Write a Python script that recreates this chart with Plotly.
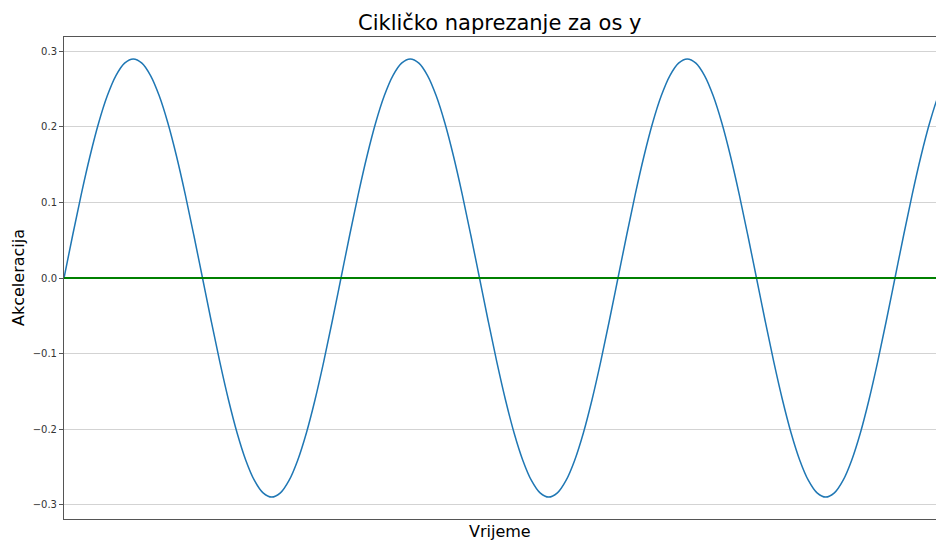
import plotly.graph_objects as go

# Sampled acceleration along the y axis, one sample every 1/32 of a load cycle
akceleracija = [
    0.0, 0.0566, 0.111, 0.1611, 0.2051, 0.2411, 0.2679, 0.2844,
    0.29, 0.2844, 0.2679, 0.2411, 0.2051, 0.1611, 0.111, 0.0566,
    0.0, -0.0566, -0.111, -0.1611, -0.2051, -0.2411, -0.2679, -0.2844,
    -0.29, -0.2844, -0.2679, -0.2411, -0.2051, -0.1611, -0.111, -0.0566,
    0.0, 0.0566, 0.111, 0.1611, 0.2051, 0.2411, 0.2679, 0.2844,
    0.29, 0.2844, 0.2679, 0.2411, 0.2051, 0.1611, 0.111, 0.0566,
    0.0, -0.0566, -0.111, -0.1611, -0.2051, -0.2411, -0.2679, -0.2844,
    -0.29, -0.2844, -0.2679, -0.2411, -0.2051, -0.1611, -0.111, -0.0566,
    0.0, 0.0566, 0.111, 0.1611, 0.2051, 0.2411, 0.2679, 0.2844,
    0.29, 0.2844, 0.2679, 0.2411, 0.2051, 0.1611, 0.111, 0.0566,
    0.0, -0.0566, -0.111, -0.1611, -0.2051, -0.2411, -0.2679, -0.2844,
    -0.29, -0.2844, -0.2679, -0.2411, -0.2051, -0.1611, -0.111, -0.0566,
    0.0, 0.0566, 0.111, 0.1611, 0.2051, 0.2411, 0.2679,
]
vrijeme = list(range(len(akceleracija)))
nula = [0.0, 0.0]
y_ticks = [-0.3, -0.2, -0.1, 0.0, 0.1, 0.2, 0.3]

FONT = "DejaVu Sans"

fig = go.Figure()
fig.add_trace(go.Scatter(
    x=vrijeme, y=akceleracija, mode="lines",
    line=dict(color="#1f77b4", width=1.5, shape="spline", smoothing=1.0),
    showlegend=False, hoverinfo="skip",
))
fig.add_trace(go.Scatter(
    x=[vrijeme[0], vrijeme[-1]], y=nula, mode="lines",
    line=dict(color="green", width=2),
    showlegend=False, hoverinfo="skip",
))

fig.update_layout(
    width=936, height=540,
    margin=dict(l=64, r=0, t=37, b=21),
    paper_bgcolor="white", plot_bgcolor="white",
    font=dict(family=FONT, color="#333"),
    xaxis=dict(
        range=[0, 100.74], showgrid=False, zeroline=False,
        showticklabels=False, ticks="",
        showline=True, linecolor="#555", linewidth=1, mirror=True,
    ),
    yaxis=dict(
        range=[-0.319, 0.319], tickvals=y_ticks, tickformat=".1f",
        showgrid=True, gridcolor="#d3d3d3", gridwidth=1, zeroline=False,
        ticks="outside", ticklen=4, tickcolor="#555", tickwidth=1,
        tickfont=dict(family=FONT, size=10, color="#333"),
        showline=True, linecolor="#555", linewidth=1,
    ),
    annotations=[
        dict(text="Cikličko naprezanje za os y", x=0.5, y=1, xref="paper", yref="paper",
             xanchor="center", yanchor="bottom", yshift=0, showarrow=False,
             font=dict(family=FONT, size=21, color="black")),
        dict(text="Vrijeme", x=0.5, y=0, xref="paper", yref="paper",
             xanchor="center", yanchor="top", yshift=-1, showarrow=False,
             font=dict(family=FONT, size=16, color="black")),
        dict(text="Akceleracija", x=0, y=0.5, xref="paper", yref="paper",
             xanchor="center", yanchor="middle", xshift=-46, textangle=-90,
             showarrow=False, font=dict(family=FONT, size=16, color="black")),
    ],
)

fig.write_html("out.html")
